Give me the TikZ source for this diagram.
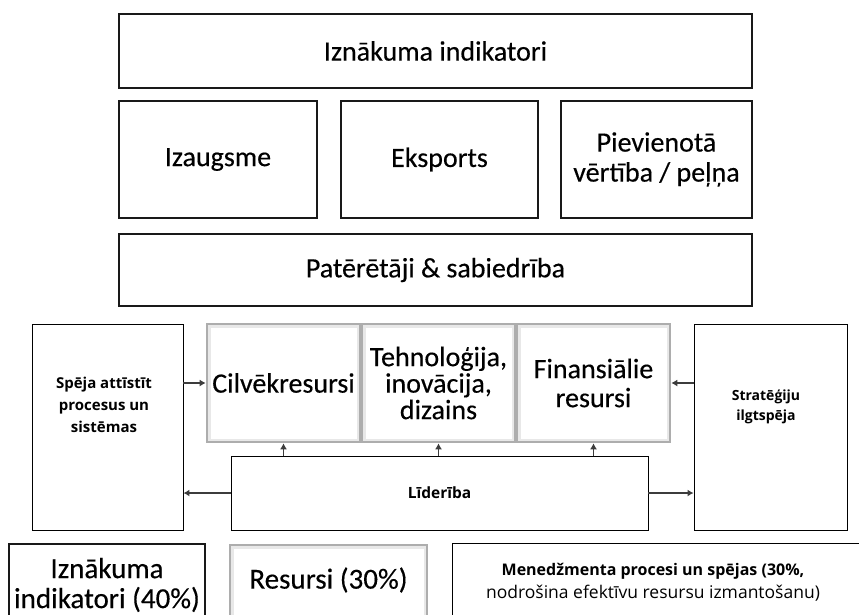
\documentclass[tikz,border=0pt]{standalone}
\usepackage{fontspec}
\setmainfont{Carlito}[FakeBold=0.35]
\newfontfamily\segfont{Open Sans}
\usetikzlibrary{arrows.meta}
\definecolor{arrowgray}{HTML}{3C3C3C}
\tikzset{
  boxthick/.style={draw=black!90, line width=1.6pt, fill=white, inner sep=0pt, align=center},
  boxthin/.style={draw=black, line width=0.9pt, fill=white, inner sep=0pt, align=center},
  graybox/.style={draw=black!32, line width=2.6pt, fill=white, inner sep=0pt, align=center,
    path picture={\draw[black!9, line width=7pt]
      (path picture bounding box.south west) rectangle (path picture bounding box.north east);}},
  bigtxt/.style={font=\fontsize{28}{30}\selectfont},
  smalltxt/.style={font=\segfont\bfseries\fontsize{14.5}{22}\selectfont, align=center, inner sep=0pt},
  conn/.style={draw=arrowgray, line width=1.3pt, -{Latex[length=6pt,width=7pt]}},
}
\begin{document}
\begin{tikzpicture}[x=1pt,y=-1pt]
\clip (0,0) rectangle (859,614);
\fill[white] (0,0) rectangle (859,614);

% output indicators block
\node[boxthick, minimum width=633pt, minimum height=74pt, bigtxt] (top) at (435.5,51) {Iznākuma indikatori};
\node[boxthick, minimum width=198pt, minimum height=117pt, bigtxt] (izaug) at (218,159.5) {Izaugsme};
\node[boxthick, minimum width=197pt, minimum height=117pt, bigtxt] (eksp) at (439.5,159.5) {Eksports};
\node[boxthick, minimum width=191pt, minimum height=117pt, bigtxt] (piev) at (656.5,159.5) {Pievienotā\\vērtība / peļņa};
\node[boxthick, minimum width=633pt, minimum height=72pt, bigtxt] (pat) at (435.5,270) {Patērētāji \& sabiedrība};

% management processes
\node[boxthin, minimum width=151pt, minimum height=206pt] (speja) at (107.5,427) {};
\node[smalltxt, font=\segfont\bfseries\fontsize{15}{22}\selectfont] (spejaT) at (104,405) {Spēja attīstīt\\procesus un\\sistēmas};
\node[boxthin, minimum width=153pt, minimum height=206pt] (strat) at (770.5,427) {};
\node[smalltxt, font=\segfont\bfseries\fontsize{14}{20}\selectfont] (stratT) at (766,407) {Stratēģiju\\ilgtspēja};
\node[boxthin, minimum width=417pt, minimum height=74pt, smalltxt, font=\segfont\bfseries\fontsize{15.5}{22}\selectfont] (lid) at (439.5,493) {Līderība};

% resources
\node[graybox, minimum width=153pt, minimum height=118pt, bigtxt] (cilv) at (283.5,383) {Cilvēkresursi};
\node[graybox, minimum width=153pt, minimum height=118pt, font=\fontsize{28}{26.5}\selectfont] (tehn) at (438.5,383) {Tehnoloģija,\\inovācija,\\dizains};
\node[graybox, minimum width=153pt, minimum height=118pt, font=\fontsize{28}{29}\selectfont] (fin) at (593.5,383) {Finansiālie\\resursi};

% connectors
\draw[conn] (speja.east |- cilv.west) -- (cilv.west);
\draw[conn] (strat.west |- fin.east) -- (fin.east);
\draw[conn] (lid.west) -- (lid.west -| speja.east);
\draw[conn] (lid.east) -- (lid.east -| strat.west);
\draw[conn] (lid.north -| cilv.south) -- (cilv.south);
\draw[conn] (lid.north -| tehn.south) -- (tehn.south);
\draw[conn] (lid.north -| fin.south) -- (fin.south);

% legend row
\node[boxthick, minimum width=196pt, minimum height=100pt] (leg1) at (107,594) {};
\node[bigtxt, font=\fontsize{29}{30}\selectfont, align=center, inner sep=0pt] (leg1T) at (107,585) {Iznākuma\\indikatori (40\%)};
\node[graybox, minimum width=197pt, minimum height=100pt] (leg2) at (328.5,595) {};
\node[font=\fontsize{29}{30}\selectfont, inner sep=0pt] (leg2T) at (328.5,580) {Resursi (30\%)};
\node[boxthin, minimum width=448pt, minimum height=100pt] (leg3) at (676,593) {};
\node[align=center, inner sep=0pt] (leg3T) at (653,582)
  {{\segfont\bfseries\fontsize{16}{22}\selectfont Menedžmenta procesi un spējas (30\%,}\\[5pt]
   {\segfont\fontsize{17.5}{22}\selectfont nodrošina efektīvu resursu izmantošanu)}};
\end{tikzpicture}
\end{document}
